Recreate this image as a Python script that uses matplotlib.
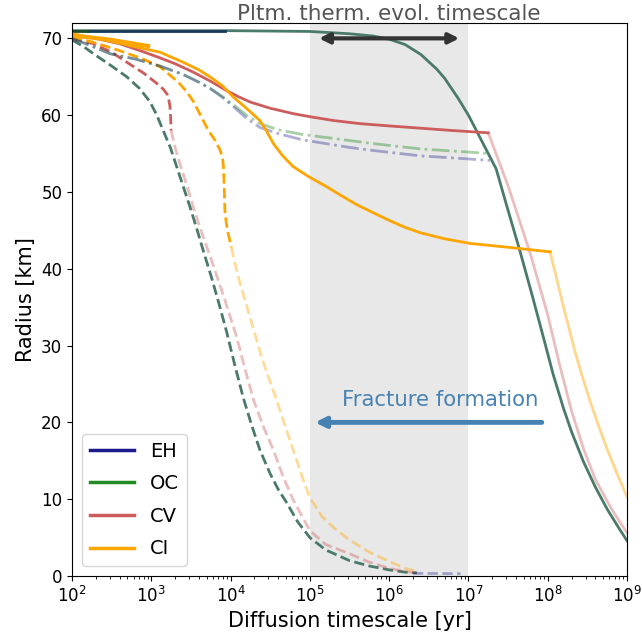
import numpy as np
import matplotlib
matplotlib.use("Agg")
import matplotlib.pyplot as plt
from matplotlib.lines import Line2D

# ---- data (log10 diffusion timescale [yr], radius [km]) ----
eh_solid_t = [2.2, 3.93]
eh_solid_r = [71.0, 71.0]
oc_solid_t = [2.0, 2.2]
oc_solid_r = [71.0, 71.0]

pltm_t = [2.0, 4.0, 5.0, 5.5, 5.8, 6.0, 6.2, 6.4, 6.6, 6.7, 6.87, 7.0, 7.12, 7.25, 7.35,
          7.5, 7.65, 7.8, 7.95, 8.07, 8.2, 8.3, 8.45, 8.6, 8.75, 8.9, 9.0]
pltm_r = [71.0, 71.0, 70.9, 70.6, 70.3, 69.9, 69.2, 67.9, 66.0, 64.8, 62.2, 60.0, 57.6, 55.0, 53.0,
          47.6, 42.3, 36.7, 30.9, 26.2, 21.8, 18.8, 14.9, 11.6, 8.7, 6.2, 4.6]

cv_solid_t = [2.0, 2.3, 2.6, 2.86, 3.1, 3.3, 3.53, 3.75, 3.95, 4.1, 4.25, 4.5, 4.79, 5.0,
              5.3, 5.63, 6.0, 6.4, 6.8, 7.25]
cv_solid_r = [70.4, 70.0, 69.3, 68.4, 67.5, 66.7, 65.6, 64.4, 63.2, 62.4, 61.7, 60.9, 60.2, 59.8,
              59.3, 58.9, 58.6, 58.3, 58.0, 57.7]
cv_late_t = [7.25, 7.5, 7.78, 8.0, 8.15, 8.3, 8.45, 8.6, 8.8, 9.0]
cv_late_r = [57.7, 50.8, 42.0, 34.0, 27.5, 21.5, 16.6, 12.6, 8.8, 5.6]

ci_top_t = [2.0, 2.5, 2.96]
ci_top_r = [70.4, 69.8, 69.0]
ci_solid_t = [2.0, 2.5, 2.8, 3.11, 3.4, 3.6, 3.74, 3.9, 4.03, 4.2, 4.37, 4.45, 4.54, 4.65,
              4.79, 5.0, 5.21, 5.4, 5.6, 5.8, 6.0, 6.2, 6.39, 6.7, 7.02, 7.5, 8.03]
ci_solid_r = [70.6, 69.6, 68.9, 68.2, 66.9, 65.9, 65.0, 63.8, 62.4, 60.9, 59.3, 58.0, 56.3, 54.8,
              53.3, 51.9, 50.7, 49.5, 48.3, 47.3, 46.3, 45.4, 44.7, 43.9, 43.3, 42.8, 42.2]
ci_late_t = [8.03, 8.2, 8.35, 8.45, 8.53, 8.65, 8.75, 8.88, 9.0]
ci_late_r = [42.2, 35.0, 29.0, 25.5, 22.9, 19.3, 16.5, 13.2, 10.3]

oc_dd_t = [2.0, 2.25, 2.48, 2.8, 3.11, 3.4, 3.6, 3.74, 3.9, 4.08, 4.2, 4.37, 4.6, 4.9,
           5.2, 5.5, 5.8, 6.14, 6.4, 6.7, 7.0, 7.27]
oc_dd_r = [70.0, 69.0, 68.0, 67.3, 66.4, 65.3, 64.3, 63.5, 62.4, 61.0, 60.0, 58.9, 58.1, 57.5,
           57.1, 56.7, 56.3, 55.9, 55.6, 55.4, 55.2, 55.0]
eh_dd_t = [2.0, 2.25, 2.48, 2.8, 3.11, 3.4, 3.6, 3.74, 3.9, 4.08, 4.2, 4.37, 4.6, 4.9,
           5.2, 5.5, 5.8, 6.14, 6.4, 6.7, 7.0, 7.27]
eh_dd_r = [70.0, 69.0, 68.0, 67.3, 66.4, 65.3, 64.3, 63.5, 62.3, 60.7, 59.6, 58.4, 57.6, 56.8,
           56.3, 55.8, 55.4, 55.0, 54.7, 54.5, 54.3, 54.1]

pltm_dash_t = [2.0, 2.15, 2.27, 2.5, 2.69, 2.85, 2.98, 3.07, 3.15, 3.24, 3.32, 3.4, 3.49, 3.58,
               3.66, 3.75, 3.85, 3.95, 4.05, 4.16, 4.27, 4.37, 4.5, 4.6, 4.71, 4.85, 5.0,
               5.2, 5.5, 5.75, 6.0, 6.2, 6.35]
pltm_dash_r = [69.8, 68.9, 68.0, 66.4, 65.0, 63.5, 61.8, 60.0, 58.0, 55.8, 53.3, 50.8, 48.0, 45.0,
               42.2, 39.2, 35.6, 31.8, 27.6, 23.2, 19.5, 16.4, 13.3, 11.3, 9.5, 7.0, 5.0,
               3.4, 2.0, 1.3, 0.8, 0.5, 0.4]

cv_dash_t = [2.0, 2.27, 2.5, 2.69, 2.9, 3.05, 3.15, 3.21, 3.235, 3.245, 3.25]
cv_dash_r = [70.0, 69.3, 68.2, 66.9, 65.5, 64.3, 63.4, 62.6, 61.2, 59.5, 58.0]
cv_dash_late_t = [3.25, 3.3, 3.36, 3.45, 3.53, 3.64, 3.76, 3.92, 4.08, 4.18, 4.29, 4.42, 4.54,
                  4.66, 4.79, 5.0, 5.2, 5.5, 5.75, 6.0, 6.2, 6.35]
cv_dash_late_r = [58.0, 55.8, 53.7, 50.8, 48.0, 44.6, 41.1, 36.2, 31.0, 27.0, 22.9, 19.3, 16.4,
                  13.0, 9.9, 5.9, 4.1, 2.9, 1.8, 1.0, 0.6, 0.4]

ci_dash_t = [2.0, 2.3, 2.6, 2.9, 3.11, 3.34, 3.45, 3.53, 3.62, 3.72, 3.8, 3.87, 3.9, 3.91,
             3.92, 3.93, 3.96, 4.01]
ci_dash_r = [70.2, 69.4, 68.4, 67.3, 66.3, 64.3, 63.0, 61.8, 60.0, 58.0, 56.8, 55.4, 54.3, 53.3,
             50.5, 47.2, 45.0, 42.8]
ci_dash_late_t = [4.01, 4.06, 4.12, 4.25, 4.4, 4.58, 4.79, 4.9, 5.0, 5.15, 5.3, 5.5, 5.75,
                  6.0, 6.2, 6.35]
ci_dash_late_r = [42.8, 40.5, 38.1, 33.5, 28.2, 22.9, 16.4, 13.0, 10.2, 7.8, 6.3, 4.7, 3.1,
                  1.9, 1.0, 0.6]

eh_dash_t = [6.3, 6.9]
eh_dash_r = [0.35, 0.3]

legend_labels = ["EH", "OC", "CV", "CI"]

# ---- styles ----
c_eh = "#1a1a8c"
c_oc = "#228b22"
c_cv = "indianred"
c_ci = "orange"
c_teal = "#4a7a6b"


def T(lst):
    return 10 ** np.asarray(lst)


fig = plt.figure(figsize=(6.42, 6.39), dpi=100)
ax = fig.add_axes([72 / 642, 1 - 576 / 639, (627 - 72) / 642, (576 - 23) / 639])

ax.axvspan(1e5, 1e7, color="#e8e8e8", zorder=0, lw=0)

# dashed family
ax.plot(T(pltm_dash_t), pltm_dash_r, ls="--", color=c_teal, lw=2)
ax.plot(T(cv_dash_late_t), cv_dash_late_r, ls="--", color=c_cv, alpha=0.4, lw=2)
ax.plot(T(cv_dash_t), cv_dash_r, ls="--", color=c_cv, lw=2)
ax.plot(T(ci_dash_late_t), ci_dash_late_r, ls="--", color=c_ci, alpha=0.4, lw=2)
ax.plot(T(ci_dash_t), ci_dash_r, ls="--", color=c_ci, lw=2)
ax.plot(T(eh_dash_t), eh_dash_r, ls="--", color=c_eh, alpha=0.35, lw=2)

# dash-dot family
ax.plot(T(oc_dd_t), oc_dd_r, ls="-.", color=c_oc, alpha=0.4, lw=2)
ax.plot(T(eh_dd_t), eh_dd_r, ls="-.", color=c_eh, alpha=0.35, lw=2)

# solid family
ax.plot(T(pltm_t), pltm_r, color=c_teal, lw=2)
ax.plot(T(eh_solid_t), eh_solid_r, color="#173a5c", lw=2)
ax.plot(T(oc_solid_t), oc_solid_r, color="#1a4a2a", lw=2)
ax.plot(T(cv_late_t), cv_late_r, color=c_cv, alpha=0.4, lw=2)
ax.plot(T(cv_solid_t), cv_solid_r, color=c_cv, lw=2)
ax.plot(T(ci_late_t), ci_late_r, color=c_ci, alpha=0.45, lw=2)
ax.plot(T(ci_solid_t), ci_solid_r, color=c_ci, lw=2)
ax.plot(T(ci_top_t), ci_top_r, color=c_ci, lw=3)

ax.set_xscale("log")
ax.set_xlim(1e2, 1e9)
ax.set_ylim(0, 72)
ax.set_xlabel("Diffusion timescale [yr]", fontsize=15)
ax.set_ylabel("Radius [km]", fontsize=15)
ax.tick_params(labelsize=12)

# annotations
ax.annotate("", xy=(10 ** 5.08, 70), xytext=(10 ** 6.92, 70),
            arrowprops=dict(arrowstyle="<|-|>", color="#333333", lw=3, mutation_scale=15))
ax.text(1e6, 72.35, "Pltm. therm. evol. timescale", ha="center", va="baseline",
        fontsize=15.5, color="#555555", clip_on=False)
ax.annotate("", xy=(10 ** 5.03, 20), xytext=(10 ** 7.96, 20),
            arrowprops=dict(arrowstyle="-|>", color="steelblue", lw=3.5, mutation_scale=15,
                            capstyle="round"))
ax.text(10 ** 6.64, 22.9, "Fracture formation", ha="center", va="center",
        fontsize=15.3, color="steelblue")

handles = [Line2D([0], [0], color=c, lw=2.5) for c in [c_eh, c_oc, c_cv, c_ci]]
ax.legend(handles, legend_labels, loc="lower left", fontsize=14, handlelength=2.3,
          labelspacing=0.7)

fig.savefig("out.png", dpi=100)
